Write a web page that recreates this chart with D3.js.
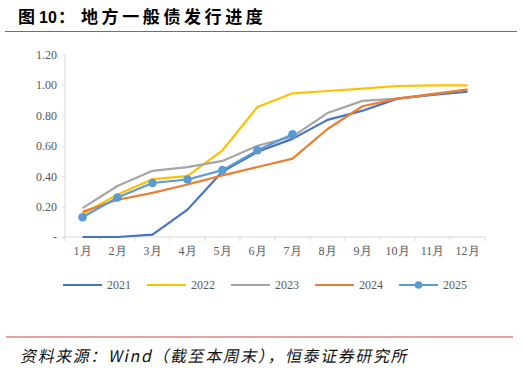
<!DOCTYPE html>
<html><head><meta charset="utf-8">
<script src="https://cdn.jsdelivr.net/npm/d3@7/dist/d3.min.js"></script>
<style>body{margin:0;background:#fff}svg{display:block}</style>
</head><body><svg id="c" width="523" height="368"></svg>
<script>
const months = ["1月","2月","3月","4月","5月","6月","7月","8月","9月","10月","11月","12月"];
const yTicks = [0,0.2,0.4,0.6,0.8,1.0,1.2];
const s2021 = [0.00,0.00,0.015,0.18,0.43,0.56,0.645,0.77,0.83,0.91,0.935,0.955];
const s2022 = [0.15,0.28,0.38,0.40,0.57,0.855,0.945,0.96,0.975,0.993,0.997,0.997];
const s2023 = [0.19,0.335,0.435,0.46,0.50,0.60,0.66,0.815,0.895,0.91,0.94,0.97];
const s2024 = [0.165,0.245,0.29,0.345,0.405,0.46,0.515,0.71,0.86,0.91,0.94,0.97];
const s2025 = [0.13,0.26,0.355,0.378,0.44,0.57,0.675];
const seriesNames = ["2021","2022","2023","2024","2025"];
const colors = ["#4472C4","#FFC000","#A5A5A5","#ED7D31","#5B9BD5"];
const allSeries = [s2021,s2022,s2023,s2024,s2025];

const svg = d3.select("#c");
const cjk = "'Noto Sans CJK SC', sans-serif";
// title
const t = svg.append("text").attr("y",22.5).attr("font-family",cjk).attr("font-weight","bold").attr("font-size",17).attr("fill","#000");
t.append("tspan").attr("x",18).text("图");
t.append("tspan").attr("x",39).attr("font-family","'Liberation Sans', Arial, sans-serif").attr("font-size",16).text("10");
t.append("tspan").attr("x",58).text("：");
t.append("tspan").attr("x",81).attr("letter-spacing",3.6).text("地方一般债发行进度");
svg.append("line").attr("x1",5).attr("x2",517).attr("y1",31.5).attr("y2",31.5).attr("stroke","#D04545").attr("stroke-width",1.2);
svg.append("line").attr("x1",6).attr("x2",513).attr("y1",337).attr("y2",337).attr("stroke","#D04545").attr("stroke-width",1.2);
svg.append("text").attr("x",20).attr("y",362).attr("font-family",cjk).attr("font-size",16).attr("letter-spacing",1.6).attr("fill","#111")
  .attr("transform","skewX(-12) translate(77,0)").text("资料来源：Wind（截至本周末），恒泰证券研究所");

const x = d3.scaleBand().domain(months).range([65,485]);
const y = d3.scaleLinear().domain([0,1.2]).range([237,54.5]);
const font = "'Liberation Serif', 'Times New Roman', serif";

const yAxis = svg.append("g").attr("transform","translate(65,0)").call(d3.axisLeft(y).tickValues(yTicks).tickSize(3).tickPadding(5).tickFormat(d=>d===0?"-":d3.format(".2f")(d)));
const xAxis = svg.append("g").attr("transform","translate(0,237)").call(d3.axisBottom(x).tickSize(0).tickPadding(9));
[yAxis,xAxis].forEach(g=>{
  g.selectAll("path").attr("stroke","#D9D9D9");
  g.selectAll("line").attr("stroke","#D9D9D9");
  g.selectAll("text").attr("font-family",font).attr("font-size",12).attr("fill","#595959");
});
yAxis.select(".domain").attr("d","M0,54.5V237");
xAxis.select(".domain").attr("d","M65,0H485");
xAxis.selectAll(".btick").data(months.concat(["end"])).enter().append("line").attr("class","btick")
  .attr("x1",(d,i)=>65+i*x.step()).attr("x2",(d,i)=>65+i*x.step()).attr("y1",0).attr("y2",4).attr("stroke","#D9D9D9");

const line = d3.line().x((d,i)=>x(months[i])+x.bandwidth()/2).y(d=>y(d));
allSeries.forEach((s,k)=>{
  svg.append("path").datum(s).attr("d",line).attr("fill","none").attr("stroke",colors[k]).attr("stroke-width",2.2).attr("stroke-linejoin","round");
});
svg.append("g").selectAll("circle").data(s2025).enter().append("circle")
  .attr("cx",(d,i)=>x(months[i])+x.bandwidth()/2).attr("cy",d=>y(d)).attr("r",4.3).attr("fill",colors[4]);

const lg = svg.append("g");
seriesNames.forEach((n,k)=>{
  const lx = 63 + k*84;
  lg.append("line").attr("x1",lx).attr("x2",lx+39).attr("y1",285).attr("y2",285).attr("stroke",colors[k]).attr("stroke-width",2.2);
  if(k===4) lg.append("circle").attr("cx",lx+19.5).attr("cy",285).attr("r",3.8).attr("fill",colors[k]);
  lg.append("text").attr("x",lx+44).attr("y",289).attr("font-family",font).attr("font-size",12).attr("fill","#595959").text(n);
});
</script></body></html>
